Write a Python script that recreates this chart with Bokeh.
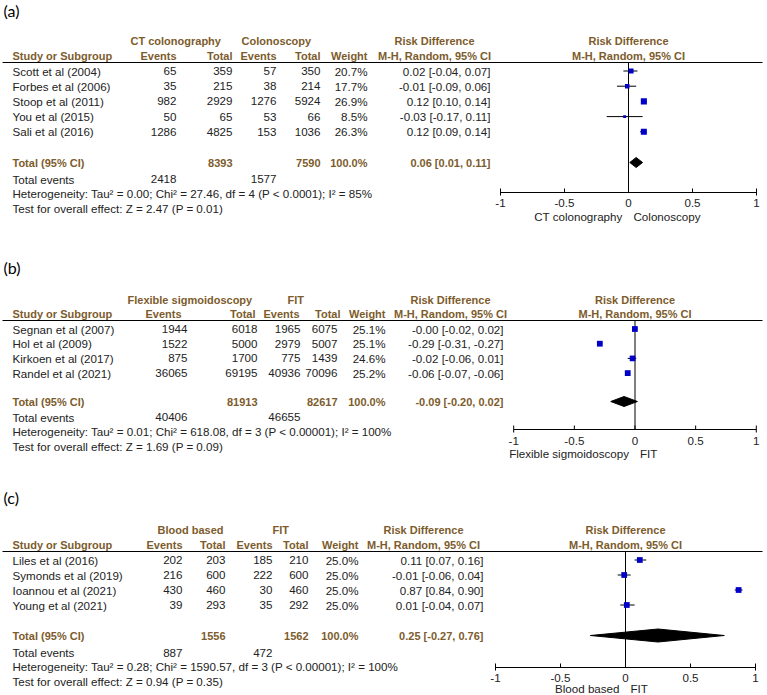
from bokeh.plotting import figure
from bokeh.models import Range1d, ColumnDataSource
from bokeh.core.properties import value
from bokeh.embed import file_html
from bokeh.resources import INLINE

# ---------------- data ----------------
A_groups = ["CT colonography", "Colonoscopy"]
A_studies = ["Scott et al (2004)", "Forbes et al (2006)", "Stoop et al (2011)", "You et al (2015)", "Sali et al (2016)"]
A_ev1 = [65, 35, 982, 50, 1286]
A_tot1 = [359, 215, 2929, 65, 4825]
A_ev2 = [57, 38, 1276, 53, 153]
A_tot2 = [350, 214, 5924, 66, 1036]
A_weight = [20.7, 17.7, 26.9, 8.5, 26.3]
A_rd = [0.02, -0.01, 0.12, -0.03, 0.12]
A_lo = [-0.04, -0.09, 0.10, -0.17, 0.09]
A_hi = [0.07, 0.06, 0.14, 0.11, 0.14]
A_total_n = [8393, 7590]
A_total_events = [2418, 1577]
A_pooled = [0.06, 0.01, 0.11]
A_het = "Heterogeneity: Tau\u00b2 = 0.00; Chi\u00b2 = 27.46, df = 4 (P < 0.0001); I\u00b2 = 85%"
A_test = "Test for overall effect: Z = 2.47 (P = 0.01)"

B_groups = ["Flexible sigmoidoscopy", "FIT"]
B_studies = ["Segnan et al (2007)", "Hol et al (2009)", "Kirkoen et al (2017)", "Randel et al (2021)"]
B_ev1 = [1944, 1522, 875, 36065]
B_tot1 = [6018, 5000, 1700, 69195]
B_ev2 = [1965, 2979, 775, 40936]
B_tot2 = [6075, 5007, 1439, 70096]
B_weight = [25.1, 25.1, 24.6, 25.2]
B_rd = [-0.001, -0.29, -0.02, -0.06]
B_lo = [-0.02, -0.31, -0.06, -0.07]
B_hi = [0.02, -0.27, 0.01, -0.06]
B_total_n = [81913, 82617]
B_total_events = [40406, 46655]
B_pooled = [-0.09, -0.20, 0.02]
B_het = "Heterogeneity: Tau\u00b2 = 0.01; Chi\u00b2 = 618.08, df = 3 (P < 0.00001); I\u00b2 = 100%"
B_test = "Test for overall effect: Z = 1.69 (P = 0.09)"

C_groups = ["Blood based", "FIT"]
C_studies = ["Liles et al (2016)", "Symonds et al (2019)", "Ioannou et al (2021)", "Young et al (2021)"]
C_ev1 = [202, 216, 430, 39]
C_tot1 = [203, 600, 460, 293]
C_ev2 = [185, 222, 30, 35]
C_tot2 = [210, 600, 460, 292]
C_weight = [25.0, 25.0, 25.0, 25.0]
C_rd = [0.11, -0.01, 0.87, 0.01]
C_lo = [0.07, -0.06, 0.84, -0.04]
C_hi = [0.16, 0.04, 0.90, 0.07]
C_total_n = [1556, 1562]
C_total_events = [887, 472]
C_pooled = [0.25, -0.27, 0.76]
C_het = "Heterogeneity: Tau\u00b2 = 0.28; Chi\u00b2 = 1590.57, df = 3 (P < 0.00001); I\u00b2 = 100%"
C_test = "Test for overall effect: Z = 0.94 (P = 0.35)"

TICKS = [-1, -0.5, 0, 0.5, 1]
TICK_LABELS = ["-1", "-0.5", "0", "0.5", "1"]
PANEL_LABELS = ["(a)", "(b)", "(c)"]

# ---------------- styles / layout ----------------
BROWN = "#7d5c2c"
INK = "#222222"
BLUE = "#0000c8"
FONT = value("Liberation Sans")
LFONT = value("Lato")
REG = "11.6px"
BLD = "11px"

W, H = 767, 695
p = figure(width=W, height=H, output_backend="svg", toolbar_location=None,
           x_range=Range1d(0, W), y_range=Range1d(H, 0), min_border=0,
           x_axis_location=None, y_axis_location=None)
p.grid.visible = False
p.outline_line_color = None


def txt(xs, ys, texts, align="left", bold=False, color=INK, size=None, font=FONT,
        rng="default", x_offset=0):
    if size is None:
        size = BLD if bold else REG
    src = ColumnDataSource(dict(x=list(xs), y=list(ys), t=[str(t) for t in texts]))
    p.text(x="x", y="y", text="t", source=src, text_align=align, text_baseline="middle",
           text_font=font, text_font_size=value(size),
           text_font_style="bold" if bold else "normal", text_color=color,
           x_range_name=rng, x_offset=x_offset)


def fmt_ci(e, l, h):
    return f"{e:.2f} [{l:.2f}, {h:.2f}]"


panels = [
    dict(name="a", label=PANEL_LABELS[0], groups=A_groups, studies=A_studies, ev1=A_ev1, tot1=A_tot1,
         ev2=A_ev2, tot2=A_tot2, weight=A_weight, rd=A_rd, lo=A_lo, hi=A_hi, total_n=A_total_n,
         total_events=A_total_events, pooled=A_pooled, het=A_het, test=A_test,
         L=dict(label_y=10, grp_y=40, hdr_y=55, line_y=62, row0=70.5, step=15.2, total_y=162,
                tev_y=178.5, het_y=193, test_y=208, axis_y=192, tick_y=202, axlab_y=216,
                ev1=176, tot1=232, ev2=276, tot2=320, wt=367, rdx=490,
                h_ev1=176, h_tot1=232, h_ev2=276, h_tot2=320,
                g1=130, g2=241, rdh=434, zero=628, unit=128, dh=5)),
    dict(name="b", label=PANEL_LABELS[1], groups=B_groups, studies=B_studies, ev1=B_ev1, tot1=B_tot1,
         ev2=B_ev2, tot2=B_tot2, weight=B_weight, rd=B_rd, lo=B_lo, hi=B_hi, total_n=B_total_n,
         total_events=B_total_events, pooled=B_pooled, het=B_het, test=B_test,
         L=dict(label_y=267, grp_y=299, hdr_y=313, line_y=320, row0=328.5, step=14.7, total_y=401,
                tev_y=416.5, het_y=431, test_y=445.5, axis_y=429, tick_y=440, axlab_y=453,
                ev1=187, tot1=257, ev2=300, tot2=337, wt=385, rdx=503,
                h_ev1=181, h_tot1=255, h_ev2=299, h_tot2=340,
                g1=127, g2=287, rdh=450, zero=634.5, unit=121.3, dh=5)),
    dict(name="c", label=PANEL_LABELS[2], groups=C_groups, studies=C_studies, ev1=C_ev1, tot1=C_tot1,
         ev2=C_ev2, tot2=C_tot2, weight=C_weight, rd=C_rd, lo=C_lo, hi=C_hi, total_n=C_total_n,
         total_events=C_total_events, pooled=C_pooled, het=C_het, test=C_test,
         L=dict(label_y=497, grp_y=529, hdr_y=544, line_y=551, row0=559.5, step=15, total_y=635,
                tev_y=652, het_y=666, test_y=681, axis_y=667, tick_y=677, axlab_y=688,
                ev1=182, tot1=225, ev2=272, tot2=308, wt=358, rdx=483,
                h_ev1=182, h_tot1=225, h_ev2=272, h_tot2=308,
                g1=157, g2=272, rdh=423, zero=625, unit=130, dh=6.5)),
]

p.extra_x_ranges = {}
for P in panels:
    L = P["L"]
    p.extra_x_ranges[P["name"]] = Range1d((0 - L["zero"]) / L["unit"], (W - L["zero"]) / L["unit"])

for P in panels:
    L = P["L"]
    n = len(P["studies"])
    ys = [L["row0"] + i * L["step"] for i in range(n)]
    rng = P["name"]

    # panel label
    txt([3], [L["label_y"]], [P["label"]], size="16px", font=LFONT, color="#000000")

    # headers
    txt([L["g1"], L["g2"]], [L["grp_y"]] * 2, P["groups"], bold=True, color=BROWN)
    txt([12], [L["hdr_y"]], ["Study or Subgroup"], bold=True, color=BROWN)
    txt([L["h_ev1"], L["h_tot1"], L["h_ev2"], L["h_tot2"], L["wt"]], [L["hdr_y"]] * 5,
        ["Events", "Total", "Events", "Total", "Weight"], align="right", bold=True, color=BROWN)
    txt([L["rdh"], L["rdh"]], [L["grp_y"], L["hdr_y"]], ["Risk Difference", "M-H, Random, 95% CI"],
        align="center", bold=True, color=BROWN)
    txt([0, 0], [L["grp_y"], L["hdr_y"]], ["Risk Difference", "M-H, Random, 95% CI"],
        align="center", bold=True, color=BROWN, rng=rng)
    p.segment(x0=[2], x1=[762], y0=[L["line_y"]], y1=[L["line_y"]], line_color="#000000", line_width=1.2)

    # study rows
    txt([12] * n, ys, P["studies"])
    txt([L["ev1"]] * n, ys, P["ev1"], align="right")
    txt([L["tot1"]] * n, ys, P["tot1"], align="right")
    txt([L["ev2"]] * n, ys, P["ev2"], align="right")
    txt([L["tot2"]] * n, ys, P["tot2"], align="right")
    txt([L["wt"]] * n, ys, [f"{w:.1f}%" for w in P["weight"]], align="right")
    txt([L["rdx"]] * n, ys, [fmt_ci(e, l, h) for e, l, h in zip(P["rd"], P["lo"], P["hi"])], align="right")

    # totals
    txt([12], [L["total_y"]], ["Total (95% CI)"], bold=True, color=BROWN)
    txt([L["tot1"], L["tot2"]], [L["total_y"]] * 2, P["total_n"], align="right", bold=True, color=BROWN)
    txt([L["wt"]], [L["total_y"]], ["100.0%"], align="right", bold=True, color=BROWN)
    txt([L["rdx"]], [L["total_y"]], [fmt_ci(*P["pooled"])], align="right", bold=True, color=BROWN)
    txt([12], [L["tev_y"]], ["Total events"])
    txt([L["ev1"], L["ev2"]], [L["tev_y"]] * 2, P["total_events"], align="right")
    txt([12], [L["het_y"]], [P["het"]])
    txt([12], [L["test_y"]], [P["test"]])

    # forest plot
    p.segment(x0=[0], x1=[0], y0=[L["line_y"]], y1=[L["axis_y"]], line_color="#000000", line_width=1,
              x_range_name=rng)
    p.segment(x0=P["lo"], x1=P["hi"], y0=ys, y1=ys, line_color="#000000", line_width=1, x_range_name=rng)
    p.scatter(x=P["rd"], y=ys, size=[1.5 + 0.17 * w for w in P["weight"]], marker="square",
              fill_color=BLUE, line_color=None, x_range_name=rng)
    e, lo, hi = P["pooled"]
    ty = L["total_y"]
    dh = L["dh"]
    p.patch(x=[lo, e, hi, e], y=[ty, ty - dh, ty, ty + dh], fill_color="#000000", line_color="#000000",
            x_range_name=rng)

    # axis
    ay = L["axis_y"]
    p.segment(x0=[TICKS[0]], x1=[TICKS[-1]], y0=[ay], y1=[ay], line_color="#000000", line_width=1,
              x_range_name=rng)
    p.segment(x0=TICKS, x1=TICKS, y0=[ay - 4] * len(TICKS),
              y1=[ay + (3 if t in (TICKS[0], TICKS[-1]) else 0) for t in TICKS],
              line_color="#000000", line_width=1, x_range_name=rng)
    txt(TICKS, [L["tick_y"]] * len(TICKS), TICK_LABELS, align="center", rng=rng)
    txt([0], [L["axlab_y"]], [P["groups"][0]], align="right", rng=rng, x_offset=-6)
    txt([0], [L["axlab_y"]], [P["groups"][1]], align="left", rng=rng, x_offset=5)

open("out.html", "w").write(file_html(p, INLINE))
